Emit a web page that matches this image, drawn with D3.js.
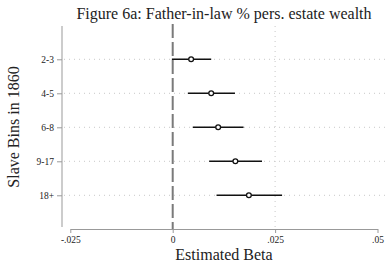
<!DOCTYPE html>
<html>
<head>
<meta charset="utf-8">
<script src="https://cdn.jsdelivr.net/npm/d3@7"></script>
<style>
  body { margin: 0; background: #fff; }
  svg { display: block; }
</style>
</head>
<body>
<script>
// slave bins and coefficient estimates with 95% CI
const bins = ['2-3', '4-5', '6-8', '9-17', '18+'];
const beta = [0.0045, 0.0094, 0.0111, 0.0153, 0.0186];
const lower = [-0.0002, 0.0037, 0.0049, 0.0089, 0.0107];
const upper = [0.0094, 0.0152, 0.0173, 0.0218, 0.0267];
const xTicks = [-0.025, 0, 0.025, 0.05];
const xTickLabels = ['-.025', '0', '.025', '.05'];

const rows = bins.map((b, i) => ({bin: b, beta: beta[i], lo: lower[i], hi: upper[i]}));

const width = 385, height = 265;
const font = '"Liberation Serif", "Times New Roman", serif';

const xScale = d3.scaleLinear()
                 .domain([-0.025, 0.05])
                 .range([70.3, 377.5]);

const yScale = d3.scalePoint()
                 .domain(bins)
                 .range([59.3, 195.3]);

const svg = d3.select('body')
              .append('svg')
              .attr('width', width)
              .attr('height', height);

const plotTop = 26, plotBottom = 229, axisX = 62;

// gridlines
svg.append('g')
   .selectAll('line')
   .data(bins)
   .join('line')
   .attr('x1', axisX + 2)
   .attr('x2', width)
   .attr('y1', d => yScale(d))
   .attr('y2', d => yScale(d))
   .attr('stroke', '#c8c8c8')
   .attr('stroke-width', 1)
   .attr('stroke-dasharray', '1,4');

svg.append('line')
   .attr('x1', xScale(0.025)).attr('x2', xScale(0.025))
   .attr('y1', plotTop).attr('y2', plotBottom)
   .attr('stroke', '#c8c8c8')
   .attr('stroke-dasharray', '1,4');

// zero reference line
svg.append('line')
   .attr('x1', xScale(0)).attr('x2', xScale(0))
   .attr('y1', plotTop - 2).attr('y2', plotBottom)
   .attr('stroke', '#7a7a7a')
   .attr('stroke-width', 2)
   .attr('stroke-dasharray', '14,4');

// y axis
const yAxis = d3.axisLeft(yScale).tickSize(5).tickPadding(3);
const gy = svg.append('g')
   .attr('transform', `translate(${axisX},0)`)
   .call(yAxis);
gy.select('.domain').remove();
gy.append('line')
  .attr('y1', plotTop).attr('y2', 227)
  .attr('stroke', '#999');
gy.selectAll('.tick line').attr('stroke', '#999');
gy.selectAll('text')
  .attr('font-family', font)
  .attr('font-size', 9.5)
  .attr('fill', '#222');

// x axis
const xAxis = d3.axisBottom(xScale)
                .tickValues(xTicks)
                .tickFormat((d, i) => xTickLabels[i])
                .tickSize(4)
                .tickPadding(3)
                .tickSizeOuter(0);
const gx = svg.append('g')
   .attr('transform', `translate(0,${plotBottom})`)
   .call(xAxis);
gx.select('.domain').attr('stroke', '#999');
gx.selectAll('.tick line').attr('stroke', '#999');
gx.selectAll('text')
  .attr('font-family', font)
  .attr('font-size', 9.5)
  .attr('fill', '#222');

// confidence intervals
svg.append('g')
   .selectAll('line')
   .data(rows)
   .join('line')
   .attr('x1', d => xScale(d.lo))
   .attr('x2', d => xScale(d.hi))
   .attr('y1', d => yScale(d.bin))
   .attr('y2', d => yScale(d.bin))
   .attr('stroke', '#111')
   .attr('stroke-width', 1.6);

// point estimates
svg.append('g')
   .selectAll('circle')
   .data(rows)
   .join('circle')
   .attr('cx', d => xScale(d.beta))
   .attr('cy', d => yScale(d.bin))
   .attr('r', 2.4)
   .attr('fill', 'white')
   .attr('stroke', '#111')
   .attr('stroke-width', 1.3);

// titles
svg.append('text')
   .attr('x', 224)
   .attr('y', 19)
   .attr('text-anchor', 'middle')
   .attr('font-family', font)
   .attr('font-size', 16)
   .attr('fill', '#222')
   .text('Figure 6a: Father-in-law % pers. estate wealth');

svg.append('text')
   .attr('x', 224)
   .attr('y', 260)
   .attr('text-anchor', 'middle')
   .attr('font-family', font)
   .attr('font-size', 16)
   .attr('fill', '#222')
   .text('Estimated Beta');

svg.append('text')
   .attr('transform', 'translate(19,127) rotate(-90)')
   .attr('text-anchor', 'middle')
   .attr('font-family', font)
   .attr('font-size', 16)
   .attr('fill', '#222')
   .text('Slave Bins in 1860');
</script>
</body>
</html>
